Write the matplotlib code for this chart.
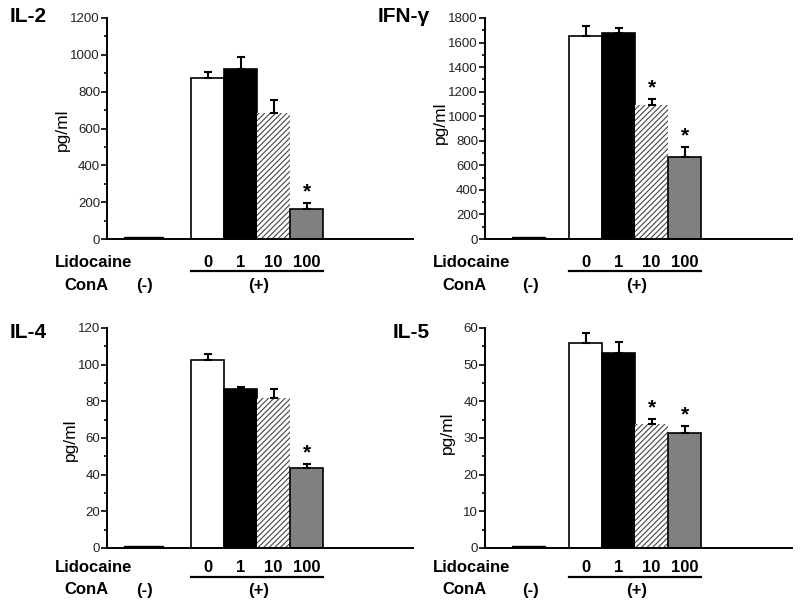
import matplotlib
matplotlib.use("Agg")
import matplotlib.pyplot as plt
from matplotlib.ticker import MultipleLocator

# ---- data ----
panels = ["IL-2", "IFN-γ", "IL-4", "IL-5"]
lidocaine_labels = ["0", "1", "10", "100"]
conA_labels = ["(-)", "(+)"]

il2_neg = 10
il2_vals = [874, 923, 684, 163]
il2_err = [32, 65, 71, 32]
il2_sig = [False, False, False, True]

ifn_neg = 15
ifn_vals = [1653, 1678, 1091, 668]
ifn_err = [82, 41, 49, 81]
ifn_sig = [False, False, True, True]

il4_neg = 1.2
il4_vals = [102.5, 86.7, 81.8, 43.6]
il4_err = [3.3, 1.1, 4.9, 2.2]
il4_sig = [False, False, False, True]

il5_neg = 0.5
il5_vals = [55.9, 53.2, 33.8, 31.4]
il5_err = [2.7, 3.0, 1.4, 1.9]
il5_sig = [False, False, True, True]

ymax = [1200, 1800, 120, 60]
major = [200, 200, 20, 10]
minor = [100, 100, 10, 5]

negs = [il2_neg, ifn_neg, il4_neg, il5_neg]
vals = [il2_vals, ifn_vals, il4_vals, il5_vals]
errs = [il2_err, ifn_err, il4_err, il5_err]
sigs = [il2_sig, ifn_sig, il4_sig, il5_sig]

# ---- style ----
W, H = 800, 603
fig = plt.figure(figsize=(W / 100, H / 100), dpi=100)
sans = ['Liberation Sans', 'DejaVu Sans']
plt.rcParams['hatch.linewidth'] = 0.8

def px_axes(x0, x1, ytop, ybot):
    return fig.add_axes([x0 / W, 1 - ybot / H, (x1 - x0) / W, (ybot - ytop) / H])

# axes boxes in pixels: (left, right, top, bottom)
boxes = [(107, 413, 18, 239), (485, 792, 18, 239),
         (107, 413, 328, 548), (485, 792, 328, 548)]
neg_pos = [1.05, 1.27, 1.05, 1.27]
neg_w = [1.2, 1.0, 1.2, 1.0]
title_xy = [(10, 17), (378, 17), (10, 333), (393, 333)]
ylab_x = [62, 440, 70, 447]
ylab_y = [130, 123, 440, 433]
row_off = [(23, 32, 46), (23, 32, 46), (19, 29, 42), (19, 29, 42)]

positions = [3, 4, 5, 6]
faces = ['white', 'black', 'white', '#808080']
hatches = [None, None, '//////', None]

for i in range(4):
    l, r, t, b = boxes[i]
    ax = px_axes(l, r, t, b)
    ax.set_xlim(-0.05, (r - l) / 33 - 0.05)
    ax.set_ylim(0, ymax[i])
    for s in ['top', 'right']:
        ax.spines[s].set_visible(False)
    ax.spines['left'].set_linewidth(1.4)
    ax.spines['bottom'].set_linewidth(1.4)
    ax.set_xticks([])
    ax.yaxis.set_major_locator(MultipleLocator(major[i]))
    ax.yaxis.set_minor_locator(MultipleLocator(minor[i]))
    ax.tick_params(axis='y', which='major', direction='out', length=4, width=1.2,
                   pad=1, labelsize=9.5, labelcolor='#222222')
    ax.tick_params(axis='y', which='minor', direction='out', length=2.5, width=1.2)
    for lab in ax.get_yticklabels():
        lab.set_family(sans)

    # negative control bar
    ax.bar(neg_pos[i], negs[i], width=neg_w[i], color='black', edgecolor='black',
           linewidth=1)
    # conA bars
    for j in range(4):
        if hatches[j]:
            ax.bar(positions[j], vals[i][j], width=1.0, color='white',
                   edgecolor='#444444', hatch=hatches[j], linewidth=0)
        else:
            ax.bar(positions[j], vals[i][j], width=1.0, color=faces[j],
                   edgecolor='black', linewidth=1.2)
        ax.errorbar(positions[j], vals[i][j], yerr=[[0], [errs[i][j]]],
                    fmt='none', ecolor='black', elinewidth=1.5, capsize=3,
                    capthick=1.5)
        if sigs[i][j]:
            ax.annotate('*', xy=(positions[j], vals[i][j] + errs[i][j]),
                        xytext=(0, 1), textcoords='offset points',
                        ha='center', va='bottom', fontsize=15, fontweight='bold',
                        family=sans)

    # labels beneath the axis
    d1, d2, d3 = row_off[i]
    tr = ('data', 'axes fraction')
    kw = dict(xycoords=tr, textcoords='offset points', va='center',
              fontsize=12, fontweight='bold', family=sans, annotation_clip=False)
    ax.annotate('Lidocaine', xy=(0.72, 0), xytext=(0, -d1 * 0.72), ha='right', **kw)
    for j in range(4):
        ax.annotate(lidocaine_labels[j], xy=(positions[j], 0),
                    xytext=(0, -d1 * 0.72), ha='center', **kw)
    ax.annotate('ConA', xy=(-0.67, 0), xytext=(0, -d3 * 0.72), ha='center', **kw)
    ax.annotate(conA_labels[0], xy=(neg_pos[i] + 0.05, 0),
                xytext=(0, -d3 * 0.72), ha='center', **kw)
    ax.annotate(conA_labels[1], xy=(4.55, 0), xytext=(0, -d3 * 0.72),
                ha='center', **kw)

    # underline beneath lidocaine doses
    x_a = l + 2.55 * 33
    x_b = l + 6.55 * 33
    y_u = b + d2
    fig.add_artist(plt.Line2D([x_a / W, x_b / W], [1 - y_u / H, 1 - y_u / H],
                              transform=fig.transFigure, color='black', lw=1.6))

    # ylabel
    fig.text(ylab_x[i] / W, 1 - ylab_y[i] / H, 'pg/ml', rotation=90,
             ha='center', va='center', fontsize=12.5, family=sans)
    # panel title
    fig.text(title_xy[i][0] / W, 1 - title_xy[i][1] / H, panels[i],
             ha='left', va='center', fontsize=15, fontweight='bold', family=sans)

fig.savefig('out.png', dpi=100)
